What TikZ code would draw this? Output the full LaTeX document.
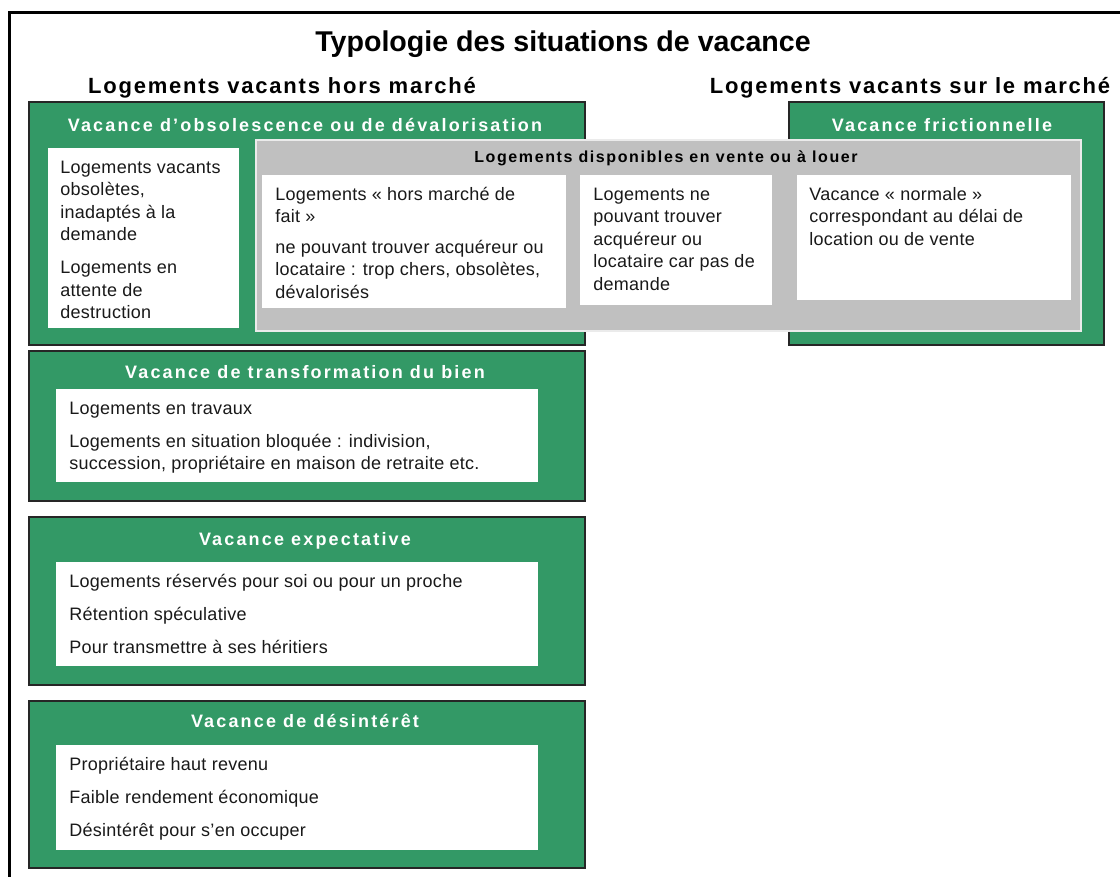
\documentclass[tikz,border=0pt]{standalone}
\usepackage{fontspec}
\setmainfont{Liberation Sans}
\newfontfamily\spacedfont{Liberation Sans}[LetterSpace=8]
\newfontfamily\titlefont{Liberation Sans}[LetterSpace=12]
\newfontfamily\grayfont{Liberation Sans}[LetterSpace=10]
\newfontfamily\itemfont{Liberation Sans}[LetterSpace=1.5]
\definecolor{vacgreen}{RGB}{51,153,102}
\definecolor{dispgray}{RGB}{192,192,192}
\tikzset{
  greenbox/.style={draw=black!85, line width=1.2pt, fill=vacgreen, anchor=north west, inner sep=0pt},
  graybox/.style={draw=black!8, line width=1pt, fill=dispgray, anchor=north west, inner sep=0pt},
  whitebox/.style={fill=white, anchor=north west, inner sep=0pt},
  heading/.style={font=\fontsize{11}{13}\selectfont\spacedfont\bfseries, anchor=base},
  boxtitle/.style={text=white, font=\fontsize{9}{11}\selectfont\titlefont\bfseries, anchor=base},
  graytitle/.style={font=\fontsize{8}{10}\selectfont\grayfont\bfseries, anchor=base},
  itemtext/.style={anchor=north west, inner sep=0pt, align=left, text=black!90, font=\fontsize{9}{11.25}\selectfont\itemfont},
}
\begin{document}
\begin{tikzpicture}[x=0.5pt,y=-0.5pt]
\useasboundingbox (0,0) rectangle (1120,877);
\draw[line width=1.5pt] (9,877) -- (9,13) -- (1120,13);
\node[font=\fontsize{14.3}{16}\selectfont\bfseries, anchor=base] (title) at (563,52) {Typologie des situations de vacance};
\node[heading] (hors) at (282,94) {Logements vacants hors marché};
\node[heading] (sur) at (910,94) {Logements vacants sur le marché};

% obsolescence et frictionnelle
\node[greenbox, minimum width=278pt, minimum height=121.5pt] (obso) at (28,101) {};
\node[boxtitle] (obso-t) at (305,131.5) {Vacance d’obsolescence ou de dévalorisation};
\node[greenbox, minimum width=157.5pt, minimum height=121.5pt] (fric) at (788,101) {};
\node[boxtitle] (fric-t) at (942,131.5) {Vacance frictionnelle};
\node[whitebox, minimum width=95.5pt, minimum height=90pt] (obsoA) at (48,148) {};
\node[itemtext] (obsoA-t) at ([shift={(12,9.25)}]obsoA.north west) {\strut Logements vacants\\ obsolètes,\\ inadaptés à la\\ demande\\[5.25pt] Logements en\\ attente de\\ destruction};

% disponibles
\node[graybox, minimum width=412.5pt, minimum height=95.5pt] (dispo) at (255,139) {};
\node[graytitle] (dispo-t) at (666,163) {Logements disponibles en vente ou à louer};
\node[whitebox, minimum width=152pt, minimum height=66.5pt] (dispoB) at (262,175) {};
\node[itemtext] (dispoB-t) at ([shift={(13,9.25)}]dispoB.north west) {\strut Logements « hors marché de\\ fait »\\[4pt] ne pouvant trouver acquéreur ou\\ locataire : trop chers, obsolètes,\\ dévalorisés};
\node[whitebox, minimum width=96pt, minimum height=65pt] (dispoC) at (580,175) {};
\node[itemtext] (dispoC-t) at ([shift={(13,9.25)}]dispoC.north west) {\strut Logements ne\\ pouvant trouver\\ acquéreur ou\\ locataire car pas de\\ demande};
\node[whitebox, minimum width=137pt, minimum height=62.5pt] (dispoD) at (797,175) {};
\node[itemtext] (dispoD-t) at ([shift={(12,9.25)}]dispoD.north west) {\strut Vacance « normale »\\ correspondant au délai de\\ location ou de vente};

% transformation
\node[greenbox, minimum width=278pt, minimum height=75pt] (transfo) at (28,350) {};
\node[boxtitle] (transfo-t) at (305,378.5) {Vacance de transformation du bien};
\node[whitebox, minimum width=241pt, minimum height=46.5pt] (transfoA) at (56,389) {};
\node[itemtext] (transfoA-t) at ([shift={(13,9.25)}]transfoA.north west) {\strut Logements en travaux\\[5.25pt] Logements en situation bloquée : indivision,\\ succession, propriétaire en maison de retraite etc.};

% expectative
\node[greenbox, minimum width=278pt, minimum height=84pt] (expect) at (28,516) {};
\node[boxtitle] (expect-t) at (305,545.5) {Vacance expectative};
\node[whitebox, minimum width=241pt, minimum height=52pt] (expectA) at (56,562) {};
\node[itemtext] (expectA-t) at ([shift={(13,9.25)}]expectA.north west) {\strut Logements réservés pour soi ou pour un proche\\[5.25pt] Rétention spéculative\\[5.25pt] Pour transmettre à ses héritiers};

% desinteret
\node[greenbox, minimum width=278pt, minimum height=83.5pt] (desint) at (28,700) {};
\node[boxtitle] (desint-t) at (305,727.5) {Vacance de désintérêt};
\node[whitebox, minimum width=241pt, minimum height=52.5pt] (desintA) at (56,745) {};
\node[itemtext] (desintA-t) at ([shift={(13,9.25)}]desintA.north west) {\strut Propriétaire haut revenu\\[5.25pt] Faible rendement économique\\[5.25pt] Désintérêt pour s’en occuper};
\end{tikzpicture}
\end{document}
